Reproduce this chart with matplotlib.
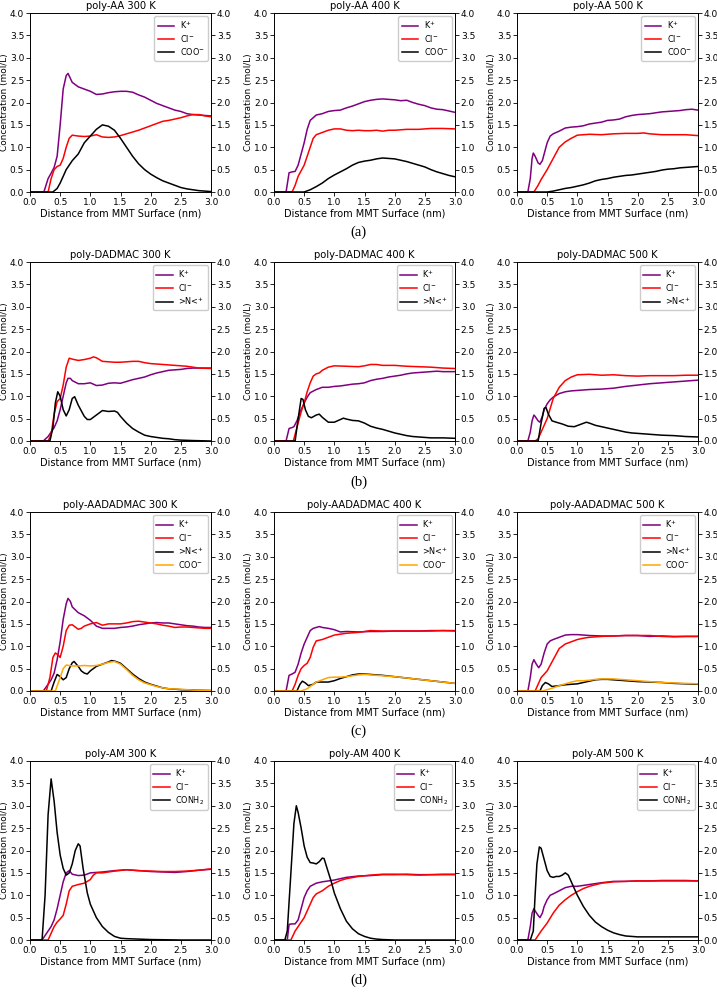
import matplotlib
matplotlib.use("Agg")
import matplotlib.pyplot as plt

# ---------------- DATA ----------------
# poly-AA 300 K
aa300_k_x = [0, 0.23, 0.3, 0.35, 0.4, 0.45, 0.5, 0.55, 0.6, 0.63, 0.7, 0.8, 0.9, 1.0, 1.1, 1.2, 1.3, 1.4, 1.5, 1.6, 1.7, 1.8, 1.9, 2.0, 2.1, 2.2, 2.3, 2.4, 2.5, 2.6, 2.7, 2.8, 2.9, 3.0]
aa300_k_y = [0, 0, 0.3, 0.42, 0.55, 0.8, 1.5, 2.3, 2.6, 2.65, 2.45, 2.35, 2.3, 2.25, 2.18, 2.19, 2.22, 2.24, 2.25, 2.25, 2.23, 2.17, 2.12, 2.05, 1.98, 1.93, 1.88, 1.83, 1.8, 1.75, 1.73, 1.72, 1.71, 1.7]
aa300_cl_x = [0, 0.3, 0.35, 0.4, 0.45, 0.5, 0.55, 0.6, 0.65, 0.7, 0.8, 0.9, 1.0, 1.1, 1.2, 1.3, 1.4, 1.5, 1.6, 1.7, 1.8, 1.9, 2.0, 2.1, 2.2, 2.3, 2.4, 2.5, 2.6, 2.7, 2.8, 2.9, 3.0]
aa300_cl_y = [0, 0, 0.3, 0.5, 0.57, 0.6, 0.75, 1.0, 1.2, 1.27, 1.25, 1.24, 1.25, 1.28, 1.23, 1.22, 1.23, 1.26, 1.3, 1.34, 1.38, 1.43, 1.48, 1.53, 1.58, 1.6, 1.63, 1.66, 1.7, 1.73, 1.73, 1.7, 1.68]
aa300_coo_x = [0, 0.38, 0.45, 0.5, 0.6, 0.7, 0.8, 0.9, 1.0, 1.1, 1.2, 1.3, 1.4, 1.5, 1.6, 1.7, 1.8, 1.9, 2.0, 2.1, 2.2, 2.3, 2.4, 2.5, 2.6, 2.7, 2.8, 2.9, 3.0]
aa300_coo_y = [0, 0, 0.08, 0.2, 0.5, 0.7, 0.85, 1.1, 1.25, 1.4, 1.5, 1.47, 1.38, 1.2, 1.0, 0.8, 0.63, 0.5, 0.4, 0.32, 0.25, 0.2, 0.15, 0.1, 0.07, 0.05, 0.03, 0.02, 0.01]

# poly-AA 400 K
aa400_k_x = [0, 0.2, 0.25, 0.3, 0.35, 0.4, 0.45, 0.5, 0.55, 0.6, 0.7, 0.8, 0.9, 1.0, 1.1, 1.2, 1.3, 1.4, 1.5, 1.6, 1.7, 1.8, 1.9, 2.0, 2.1, 2.2, 2.3, 2.4, 2.5, 2.6, 2.7, 2.8, 2.9, 3.0]
aa400_k_y = [0, 0, 0.43, 0.45, 0.46, 0.6, 0.85, 1.1, 1.4, 1.6, 1.72, 1.75, 1.8, 1.82, 1.83, 1.88, 1.92, 1.97, 2.02, 2.05, 2.07, 2.08, 2.07, 2.06, 2.04, 2.05, 2.0, 1.96, 1.93, 1.88, 1.85, 1.84, 1.81, 1.78]
aa400_cl_x = [0, 0.3, 0.35, 0.4, 0.5, 0.6, 0.65, 0.7, 0.8, 0.9, 1.0, 1.1, 1.2, 1.3, 1.4, 1.5, 1.6, 1.7, 1.8, 1.9, 2.0, 2.2, 2.4, 2.6, 2.8, 3.0]
aa400_cl_y = [0, 0, 0.15, 0.35, 0.6, 1.0, 1.2, 1.28, 1.33, 1.38, 1.41, 1.41, 1.38, 1.37, 1.38, 1.37, 1.37, 1.38, 1.36, 1.38, 1.38, 1.4, 1.4, 1.42, 1.42, 1.41]
aa400_coo_x = [0, 0.5, 0.6, 0.7, 0.8, 0.9, 1.0, 1.1, 1.2, 1.3, 1.4, 1.5, 1.6, 1.7, 1.8, 1.9, 2.0, 2.1, 2.2, 2.3, 2.4, 2.5, 2.6, 2.7, 2.8, 2.9, 3.0]
aa400_coo_y = [0, 0, 0.05, 0.12, 0.2, 0.3, 0.38, 0.45, 0.52, 0.6, 0.66, 0.69, 0.71, 0.74, 0.76, 0.75, 0.74, 0.71, 0.68, 0.64, 0.6, 0.56, 0.5, 0.45, 0.41, 0.37, 0.34]

# poly-AA 500 K
aa500_k_x = [0, 0.18, 0.22, 0.25, 0.27, 0.3, 0.35, 0.38, 0.42, 0.45, 0.5, 0.55, 0.6, 0.7, 0.8, 0.9, 1.0, 1.1, 1.2, 1.3, 1.4, 1.5, 1.6, 1.7, 1.8, 1.9, 2.0, 2.1, 2.2, 2.3, 2.4, 2.5, 2.6, 2.7, 2.8, 2.9, 3.0]
aa500_k_y = [0, 0, 0.3, 0.75, 0.87, 0.8, 0.65, 0.62, 0.7, 0.85, 1.1, 1.25, 1.3, 1.36, 1.43, 1.45, 1.46, 1.48, 1.52, 1.54, 1.56, 1.6, 1.61, 1.63, 1.68, 1.71, 1.73, 1.74, 1.75, 1.77, 1.79, 1.8, 1.81, 1.82, 1.84, 1.85, 1.83]
aa500_cl_x = [0, 0.28, 0.35, 0.4, 0.5, 0.6, 0.7, 0.8, 0.9, 1.0, 1.1, 1.2, 1.4, 1.6, 1.8, 2.0, 2.1, 2.2, 2.4, 2.6, 2.8, 3.0]
aa500_cl_y = [0, 0, 0.15, 0.28, 0.5, 0.75, 1.0, 1.12, 1.2, 1.27, 1.28, 1.29, 1.28, 1.3, 1.31, 1.31, 1.32, 1.3, 1.28, 1.28, 1.28, 1.26]
aa500_coo_x = [0, 0.5, 0.6, 0.7, 0.8, 0.9, 1.0, 1.1, 1.2, 1.3, 1.4, 1.5, 1.6, 1.7, 1.8, 1.9, 2.0, 2.1, 2.2, 2.3, 2.4, 2.5, 2.6, 2.7, 2.8, 2.9, 3.0]
aa500_coo_y = [0, 0, 0.02, 0.05, 0.08, 0.1, 0.13, 0.16, 0.2, 0.25, 0.28, 0.3, 0.33, 0.35, 0.37, 0.38, 0.4, 0.42, 0.44, 0.46, 0.49, 0.51, 0.52, 0.54, 0.55, 0.56, 0.57]

# poly-DADMAC 300 K
da300_k_x = [0, 0.22, 0.3, 0.35, 0.4, 0.45, 0.5, 0.55, 0.6, 0.63, 0.67, 0.7, 0.8, 0.9, 1.0, 1.1, 1.2, 1.3, 1.4, 1.5, 1.6, 1.7, 1.8, 1.9, 2.0, 2.1, 2.2, 2.3, 2.4, 2.5, 2.6, 2.7, 2.8, 2.9, 3.0]
da300_k_y = [0, 0, 0.1, 0.2, 0.3, 0.45, 0.7, 1.0, 1.3, 1.4, 1.4, 1.35, 1.28, 1.28, 1.3, 1.24, 1.25, 1.29, 1.3, 1.29, 1.33, 1.37, 1.4, 1.43, 1.48, 1.52, 1.55, 1.58, 1.59, 1.6, 1.62, 1.63, 1.63, 1.63, 1.63]
da300_cl_x = [0, 0.3, 0.35, 0.4, 0.45, 0.5, 0.55, 0.6, 0.65, 0.7, 0.8, 0.9, 1.0, 1.05, 1.1, 1.2, 1.3, 1.4, 1.5, 1.6, 1.7, 1.8, 1.9, 2.0, 2.2, 2.4, 2.6, 2.8, 3.0]
da300_cl_y = [0, 0, 0.15, 0.6, 0.88, 0.95, 1.25, 1.65, 1.85, 1.83, 1.8, 1.82, 1.85, 1.88, 1.86, 1.78, 1.77, 1.76, 1.76, 1.77, 1.78, 1.78, 1.75, 1.73, 1.71, 1.69, 1.67, 1.63, 1.62]
da300_n_x = [0, 0.33, 0.38, 0.42, 0.46, 0.5, 0.55, 0.6, 0.65, 0.7, 0.74, 0.8, 0.9, 0.95, 1.0, 1.1, 1.2, 1.3, 1.4, 1.45, 1.5, 1.6, 1.7, 1.8, 1.9, 2.0, 2.1, 2.2, 2.3, 2.4, 2.5, 2.7, 3.0]
da300_n_y = [0, 0, 0.3, 0.85, 1.1, 1.0, 0.7, 0.56, 0.7, 0.95, 0.99, 0.8, 0.55, 0.48, 0.48, 0.58, 0.68, 0.66, 0.67, 0.64, 0.55, 0.4, 0.28, 0.2, 0.13, 0.1, 0.08, 0.06, 0.05, 0.03, 0.02, 0.01, 0.0]

# poly-DADMAC 400 K
da400_k_x = [0, 0.2, 0.25, 0.3, 0.33, 0.38, 0.45, 0.5, 0.55, 0.6, 0.7, 0.8, 0.9, 1.0, 1.1, 1.2, 1.3, 1.4, 1.5, 1.6, 1.7, 1.8, 1.9, 2.0, 2.1, 2.2, 2.3, 2.4, 2.5, 2.6, 2.7, 2.8, 3.0]
da400_k_y = [0, 0, 0.28, 0.3, 0.32, 0.45, 0.7, 0.85, 0.98, 1.08, 1.15, 1.2, 1.2, 1.22, 1.23, 1.25, 1.27, 1.28, 1.3, 1.35, 1.38, 1.4, 1.43, 1.45, 1.47, 1.5, 1.52, 1.53, 1.54, 1.55, 1.56, 1.55, 1.55]
da400_cl_x = [0, 0.32, 0.38, 0.45, 0.5, 0.55, 0.6, 0.65, 0.7, 0.75, 0.8, 0.9, 1.0, 1.2, 1.4, 1.5, 1.6, 1.7, 1.8, 2.0, 2.2, 2.4, 2.6, 2.8, 3.0]
da400_cl_y = [0, 0, 0.3, 0.65, 0.85, 1.1, 1.3, 1.45, 1.5, 1.52, 1.58, 1.65, 1.68, 1.67, 1.66, 1.68, 1.71, 1.71, 1.69, 1.69, 1.67, 1.66, 1.65, 1.63, 1.62]
da400_n_x = [0, 0.35, 0.4, 0.45, 0.48, 0.52, 0.57, 0.62, 0.7, 0.75, 0.8, 0.9, 1.0, 1.1, 1.15, 1.2, 1.3, 1.4, 1.5, 1.6, 1.7, 1.8, 1.9, 2.0, 2.1, 2.2, 2.3, 2.4, 2.5, 2.6, 2.8, 3.0]
da400_n_y = [0, 0, 0.5, 0.95, 0.93, 0.7, 0.55, 0.52, 0.58, 0.6, 0.53, 0.42, 0.42, 0.48, 0.51, 0.49, 0.46, 0.45, 0.4, 0.33, 0.29, 0.26, 0.22, 0.18, 0.15, 0.12, 0.1, 0.09, 0.08, 0.07, 0.07, 0.06]

# poly-DADMAC 500 K
da500_k_x = [0, 0.18, 0.22, 0.25, 0.28, 0.3, 0.35, 0.38, 0.42, 0.45, 0.5, 0.55, 0.6, 0.7, 0.8, 0.9, 1.0, 1.2, 1.4, 1.6, 1.8, 2.0, 2.2, 2.4, 2.6, 2.8, 3.0]
da500_k_y = [0, 0, 0.2, 0.45, 0.58, 0.55, 0.45, 0.42, 0.55, 0.7, 0.83, 0.92, 0.98, 1.06, 1.1, 1.12, 1.13, 1.15, 1.16, 1.18, 1.22, 1.25, 1.28, 1.3, 1.32, 1.34, 1.36]
da500_cl_x = [0, 0.3, 0.35, 0.4, 0.5, 0.6, 0.7, 0.8, 0.9, 1.0, 1.2, 1.4, 1.6, 1.8, 2.0, 2.2, 2.4, 2.6, 2.8, 3.0]
da500_cl_y = [0, 0, 0.05, 0.2, 0.5, 0.95, 1.2, 1.35, 1.43, 1.48, 1.49, 1.47, 1.48, 1.46, 1.45, 1.46, 1.46, 1.46, 1.47, 1.47]
da500_n_x = [0, 0.35, 0.4, 0.45, 0.48, 0.52, 0.58, 0.65, 0.75, 0.85, 0.95, 1.05, 1.15, 1.2, 1.3, 1.4, 1.5, 1.6, 1.7, 1.8, 1.9, 2.0, 2.2, 2.4, 2.6, 2.8, 3.0]
da500_n_y = [0, 0, 0.4, 0.73, 0.75, 0.6, 0.45, 0.42, 0.38, 0.33, 0.32, 0.37, 0.42, 0.4, 0.35, 0.32, 0.29, 0.26, 0.23, 0.2, 0.18, 0.17, 0.15, 0.13, 0.12, 0.1, 0.09]

# poly-AADADMAC 300 K
ad300_k_x = [0, 0.22, 0.3, 0.35, 0.4, 0.45, 0.5, 0.55, 0.6, 0.63, 0.67, 0.7, 0.8, 0.9, 1.0, 1.1, 1.2, 1.3, 1.4, 1.5, 1.6, 1.7, 1.8, 1.9, 2.0, 2.1, 2.2, 2.3, 2.4, 2.5, 2.6, 2.7, 2.8, 2.9, 3.0]
ad300_k_y = [0, 0, 0.15, 0.25, 0.4, 0.7, 1.1, 1.6, 1.95, 2.07, 2.0, 1.88, 1.75, 1.68, 1.58, 1.45, 1.4, 1.4, 1.4, 1.42, 1.43, 1.45, 1.48, 1.5, 1.52, 1.53, 1.52, 1.52, 1.5, 1.48, 1.46, 1.45, 1.43, 1.42, 1.42]
ad300_cl_x = [0, 0.27, 0.33, 0.38, 0.42, 0.47, 0.5, 0.55, 0.6, 0.65, 0.7, 0.75, 0.8, 0.85, 0.9, 1.0, 1.1, 1.2, 1.3, 1.4, 1.5, 1.6, 1.7, 1.8, 1.9, 2.0, 2.1, 2.2, 2.3, 2.4, 2.5, 2.6, 2.7, 2.8, 2.9, 3.0]
ad300_cl_y = [0, 0, 0.3, 0.75, 0.85, 0.8, 0.75, 1.0, 1.35, 1.47, 1.48, 1.43, 1.38, 1.4, 1.45, 1.5, 1.53, 1.47, 1.5, 1.5, 1.5, 1.52, 1.55, 1.56, 1.54, 1.52, 1.5, 1.47, 1.45, 1.42, 1.43, 1.43, 1.42, 1.41, 1.4, 1.4]
ad300_n_x = [0, 0.35, 0.4, 0.45, 0.5, 0.55, 0.6, 0.65, 0.7, 0.73, 0.8, 0.85, 0.9, 0.95, 1.0, 1.1, 1.2, 1.3, 1.35, 1.4, 1.5, 1.6, 1.7, 1.8, 1.9, 2.0, 2.1, 2.2, 2.3, 2.5, 2.7, 3.0]
ad300_n_y = [0, 0, 0.2, 0.37, 0.32, 0.25, 0.3, 0.5, 0.63, 0.66, 0.55, 0.45, 0.4, 0.38, 0.45, 0.55, 0.6, 0.65, 0.68, 0.67, 0.62, 0.5, 0.38, 0.28, 0.2, 0.15, 0.11, 0.07, 0.05, 0.03, 0.02, 0.01]
ad300_coo_x = [0, 0.42, 0.5, 0.55, 0.6, 0.7, 0.8, 0.9, 1.0, 1.1, 1.2, 1.3, 1.4, 1.5, 1.6, 1.7, 1.8, 1.9, 2.0, 2.1, 2.2, 2.3, 2.5, 2.7, 3.0]
ad300_coo_y = [0, 0, 0.3, 0.5, 0.58, 0.56, 0.56, 0.57, 0.56, 0.57, 0.6, 0.64, 0.66, 0.6, 0.48, 0.35, 0.25, 0.18, 0.14, 0.1, 0.07, 0.05, 0.04, 0.02, 0.01]

# poly-AADADMAC 400 K
ad400_k_x = [0, 0.2, 0.25, 0.3, 0.35, 0.4, 0.45, 0.5, 0.55, 0.6, 0.65, 0.7, 0.75, 0.8, 0.9, 1.0, 1.1, 1.2, 1.4, 1.6, 1.8, 2.0, 2.2, 2.4, 2.6, 2.8, 3.0]
ad400_k_y = [0, 0, 0.35, 0.38, 0.42, 0.6, 0.85, 1.05, 1.2, 1.35, 1.4, 1.42, 1.44, 1.42, 1.4, 1.37, 1.32, 1.33, 1.32, 1.33, 1.33, 1.34, 1.34, 1.34, 1.35, 1.35, 1.35]
ad400_cl_x = [0, 0.3, 0.35, 0.4, 0.45, 0.5, 0.55, 0.6, 0.65, 0.7, 0.8, 0.9, 1.0, 1.1, 1.2, 1.4, 1.5, 1.6, 1.8, 2.0, 2.2, 2.4, 2.6, 2.8, 3.0]
ad400_cl_y = [0, 0, 0.15, 0.35, 0.5, 0.57, 0.62, 0.75, 0.98, 1.12, 1.15, 1.2, 1.25, 1.27, 1.29, 1.31, 1.33, 1.35, 1.34, 1.34, 1.34, 1.34, 1.34, 1.35, 1.34]
ad400_n_x = [0, 0.38, 0.43, 0.47, 0.52, 0.57, 0.65, 0.7, 0.8, 0.9, 1.0, 1.1, 1.2, 1.3, 1.4, 1.5, 1.6, 1.8, 2.0, 2.2, 2.4, 2.6, 2.8, 3.0]
ad400_n_y = [0, 0, 0.15, 0.22, 0.18, 0.12, 0.15, 0.2, 0.2, 0.2, 0.23, 0.28, 0.32, 0.36, 0.38, 0.38, 0.37, 0.35, 0.32, 0.29, 0.26, 0.23, 0.2, 0.17]
ad400_coo_x = [0, 0.45, 0.55, 0.6, 0.7, 0.8, 0.9, 1.0, 1.1, 1.2, 1.3, 1.4, 1.5, 1.6, 1.8, 2.0, 2.2, 2.4, 2.6, 2.8, 3.0]
ad400_coo_y = [0, 0, 0.05, 0.1, 0.2, 0.25, 0.3, 0.31, 0.31, 0.32, 0.34, 0.36, 0.37, 0.36, 0.34, 0.32, 0.29, 0.26, 0.23, 0.2, 0.17]

# poly-AADADMAC 500 K
ad500_k_x = [0, 0.18, 0.22, 0.25, 0.28, 0.32, 0.36, 0.4, 0.45, 0.5, 0.55, 0.6, 0.7, 0.8, 0.9, 1.0, 1.2, 1.4, 1.6, 1.8, 2.0, 2.2, 2.4, 2.6, 2.8, 3.0]
ad500_k_y = [0, 0, 0.3, 0.6, 0.7, 0.6, 0.52, 0.6, 0.85, 1.05, 1.12, 1.15, 1.2, 1.25, 1.26, 1.26, 1.24, 1.23, 1.23, 1.24, 1.24, 1.22, 1.23, 1.22, 1.22, 1.22]
ad500_cl_x = [0, 0.3, 0.35, 0.4, 0.5, 0.6, 0.7, 0.8, 0.9, 1.0, 1.1, 1.2, 1.4, 1.6, 1.8, 2.0, 2.2, 2.4, 2.6, 2.8, 3.0]
ad500_cl_y = [0, 0, 0.15, 0.3, 0.45, 0.7, 0.95, 1.05, 1.1, 1.15, 1.18, 1.2, 1.22, 1.23, 1.24, 1.24, 1.24, 1.22, 1.21, 1.22, 1.22]
ad500_n_x = [0, 0.38, 0.42, 0.47, 0.52, 0.58, 0.7, 0.8, 0.9, 1.0, 1.1, 1.2, 1.3, 1.4, 1.5, 1.6, 1.8, 2.0, 2.2, 2.4, 2.6, 2.8, 3.0]
ad500_n_y = [0, 0, 0.12, 0.19, 0.16, 0.1, 0.12, 0.14, 0.15, 0.16, 0.19, 0.22, 0.25, 0.26, 0.26, 0.25, 0.23, 0.21, 0.2, 0.19, 0.17, 0.16, 0.15]
ad500_coo_x = [0, 0.42, 0.5, 0.6, 0.7, 0.8, 0.9, 1.0, 1.1, 1.2, 1.3, 1.4, 1.5, 1.6, 1.8, 2.0, 2.2, 2.4, 2.6, 2.8, 3.0]
ad500_coo_y = [0, 0, 0.03, 0.07, 0.12, 0.16, 0.2, 0.23, 0.23, 0.24, 0.26, 0.27, 0.27, 0.27, 0.25, 0.23, 0.21, 0.19, 0.18, 0.17, 0.16]

# poly-AM 300 K
am300_k_x = [0, 0.2, 0.25, 0.3, 0.35, 0.4, 0.45, 0.5, 0.55, 0.6, 0.65, 0.7, 0.8, 0.9, 1.0, 1.2, 1.4, 1.6, 1.8, 2.0, 2.2, 2.4, 2.6, 2.8, 3.0]
am300_k_y = [0, 0, 0.1, 0.2, 0.3, 0.45, 0.7, 1.0, 1.3, 1.5, 1.55, 1.47, 1.44, 1.45, 1.5, 1.52, 1.55, 1.57, 1.55, 1.53, 1.52, 1.51, 1.53, 1.56, 1.58]
am300_cl_x = [0, 0.3, 0.35, 0.4, 0.45, 0.5, 0.55, 0.6, 0.65, 0.7, 0.8, 0.9, 1.0, 1.05, 1.1, 1.2, 1.4, 1.6, 1.8, 2.0, 2.2, 2.4, 2.6, 2.8, 3.0]
am300_cl_y = [0, 0, 0.15, 0.3, 0.4, 0.47, 0.55, 0.8, 1.1, 1.2, 1.24, 1.27, 1.35, 1.45, 1.5, 1.5, 1.54, 1.57, 1.55, 1.54, 1.53, 1.53, 1.54, 1.56, 1.59]
am300_c_x = [0, 0.2, 0.25, 0.3, 0.35, 0.4, 0.45, 0.5, 0.55, 0.6, 0.65, 0.7, 0.75, 0.8, 0.83, 0.88, 0.95, 1.0, 1.1, 1.2, 1.3, 1.4, 1.5, 1.6, 1.8, 2.0, 2.5, 3.0]
am300_c_y = [0, 0, 1.0, 2.8, 3.6, 3.1, 2.4, 1.9, 1.6, 1.45, 1.5, 1.7, 2.0, 2.15, 2.1, 1.6, 1.05, 0.8, 0.5, 0.3, 0.17, 0.08, 0.04, 0.03, 0.02, 0.01, 0.0, 0.0]

# poly-AM 400 K
am400_k_x = [0, 0.22, 0.25, 0.3, 0.35, 0.4, 0.45, 0.5, 0.55, 0.6, 0.7, 0.8, 0.9, 1.0, 1.1, 1.2, 1.4, 1.6, 1.8, 2.0, 2.2, 2.4, 2.6, 2.8, 3.0]
am400_k_y = [0, 0, 0.35, 0.36, 0.36, 0.45, 0.7, 0.95, 1.1, 1.2, 1.27, 1.3, 1.32, 1.34, 1.37, 1.4, 1.43, 1.44, 1.46, 1.46, 1.47, 1.46, 1.46, 1.46, 1.46]
am400_cl_x = [0, 0.28, 0.35, 0.4, 0.5, 0.55, 0.6, 0.65, 0.7, 0.8, 0.9, 1.0, 1.1, 1.2, 1.4, 1.6, 1.8, 2.0, 2.2, 2.4, 2.6, 2.8, 3.0]
am400_cl_y = [0, 0, 0.2, 0.3, 0.5, 0.65, 0.8, 0.95, 1.03, 1.1, 1.2, 1.27, 1.33, 1.37, 1.42, 1.45, 1.47, 1.47, 1.46, 1.45, 1.46, 1.47, 1.47]
am400_c_x = [0, 0.18, 0.22, 0.28, 0.33, 0.37, 0.4, 0.45, 0.5, 0.55, 0.6, 0.65, 0.7, 0.75, 0.8, 0.83, 0.88, 0.95, 1.0, 1.1, 1.2, 1.3, 1.4, 1.5, 1.6, 1.7, 1.8, 2.0, 3.0]
am400_c_y = [0, 0, 0.2, 1.5, 2.6, 3.0, 2.85, 2.5, 2.1, 1.85, 1.73, 1.72, 1.7, 1.75, 1.83, 1.82, 1.6, 1.3, 1.05, 0.7, 0.42, 0.25, 0.14, 0.08, 0.04, 0.02, 0.01, 0.0, 0.0]

# poly-AM 500 K
am500_k_x = [0, 0.18, 0.22, 0.25, 0.28, 0.3, 0.35, 0.38, 0.42, 0.45, 0.5, 0.55, 0.6, 0.7, 0.8, 0.9, 1.0, 1.1, 1.2, 1.4, 1.6, 1.8, 2.0, 2.2, 2.4, 2.6, 2.8, 3.0]
am500_k_y = [0, 0, 0.3, 0.6, 0.7, 0.65, 0.55, 0.5, 0.6, 0.75, 0.9, 1.0, 1.03, 1.1, 1.17, 1.2, 1.2, 1.22, 1.24, 1.28, 1.31, 1.31, 1.32, 1.32, 1.33, 1.33, 1.33, 1.32]
am500_cl_x = [0, 0.3, 0.35, 0.4, 0.5, 0.6, 0.7, 0.8, 0.9, 1.0, 1.1, 1.2, 1.4, 1.6, 1.8, 2.0, 2.2, 2.4, 2.6, 2.8, 3.0]
am500_cl_y = [0, 0, 0.1, 0.2, 0.38, 0.6, 0.78, 0.9, 1.0, 1.08, 1.15, 1.2, 1.27, 1.3, 1.31, 1.32, 1.32, 1.32, 1.32, 1.32, 1.32]
am500_c_x = [0, 0.22, 0.27, 0.3, 0.33, 0.37, 0.4, 0.45, 0.5, 0.55, 0.6, 0.65, 0.7, 0.75, 0.8, 0.85, 0.9, 1.0, 1.1, 1.2, 1.3, 1.4, 1.5, 1.6, 1.7, 1.8, 1.9, 2.0, 2.5, 3.0]
am500_c_y = [0, 0, 0.2, 1.0, 1.7, 2.08, 2.05, 1.8, 1.55, 1.42, 1.4, 1.42, 1.42, 1.45, 1.5, 1.45, 1.3, 1.0, 0.75, 0.55, 0.4, 0.3, 0.22, 0.16, 0.12, 0.09, 0.08, 0.07, 0.07, 0.07]

titles = ["poly-AA 300 K", "poly-AA 400 K", "poly-AA 500 K",
          "poly-DADMAC 300 K", "poly-DADMAC 400 K", "poly-DADMAC 500 K",
          "poly-AADADMAC 300 K", "poly-AADADMAC 400 K", "poly-AADADMAC 500 K",
          "poly-AM 300 K", "poly-AM 400 K", "poly-AM 500 K"]
captions = ["(a)", "(b)", "(c)", "(d)"]

LBL_K = "K$^{+}$"
LBL_CL = "Cl$^{-}$"
LBL_COO = "COO$^{-}$"
LBL_N = ">N<$^{+}$"
LBL_C = "CONH$_2$"
C_K, C_CL, C_BLACK, C_ORANGE = "purple", "red", "black", "orange"

panels = [
    [(aa300_k_x, aa300_k_y, LBL_K, C_K), (aa300_cl_x, aa300_cl_y, LBL_CL, C_CL), (aa300_coo_x, aa300_coo_y, LBL_COO, C_BLACK)],
    [(aa400_k_x, aa400_k_y, LBL_K, C_K), (aa400_cl_x, aa400_cl_y, LBL_CL, C_CL), (aa400_coo_x, aa400_coo_y, LBL_COO, C_BLACK)],
    [(aa500_k_x, aa500_k_y, LBL_K, C_K), (aa500_cl_x, aa500_cl_y, LBL_CL, C_CL), (aa500_coo_x, aa500_coo_y, LBL_COO, C_BLACK)],
    [(da300_k_x, da300_k_y, LBL_K, C_K), (da300_cl_x, da300_cl_y, LBL_CL, C_CL), (da300_n_x, da300_n_y, LBL_N, C_BLACK)],
    [(da400_k_x, da400_k_y, LBL_K, C_K), (da400_cl_x, da400_cl_y, LBL_CL, C_CL), (da400_n_x, da400_n_y, LBL_N, C_BLACK)],
    [(da500_k_x, da500_k_y, LBL_K, C_K), (da500_cl_x, da500_cl_y, LBL_CL, C_CL), (da500_n_x, da500_n_y, LBL_N, C_BLACK)],
    [(ad300_k_x, ad300_k_y, LBL_K, C_K), (ad300_cl_x, ad300_cl_y, LBL_CL, C_CL), (ad300_n_x, ad300_n_y, LBL_N, C_BLACK), (ad300_coo_x, ad300_coo_y, LBL_COO, C_ORANGE)],
    [(ad400_k_x, ad400_k_y, LBL_K, C_K), (ad400_cl_x, ad400_cl_y, LBL_CL, C_CL), (ad400_n_x, ad400_n_y, LBL_N, C_BLACK), (ad400_coo_x, ad400_coo_y, LBL_COO, C_ORANGE)],
    [(ad500_k_x, ad500_k_y, LBL_K, C_K), (ad500_cl_x, ad500_cl_y, LBL_CL, C_CL), (ad500_n_x, ad500_n_y, LBL_N, C_BLACK), (ad500_coo_x, ad500_coo_y, LBL_COO, C_ORANGE)],
    [(am300_k_x, am300_k_y, LBL_K, C_K), (am300_cl_x, am300_cl_y, LBL_CL, C_CL), (am300_c_x, am300_c_y, LBL_C, C_BLACK)],
    [(am400_k_x, am400_k_y, LBL_K, C_K), (am400_cl_x, am400_cl_y, LBL_CL, C_CL), (am400_c_x, am400_c_y, LBL_C, C_BLACK)],
    [(am500_k_x, am500_k_y, LBL_K, C_K), (am500_cl_x, am500_cl_y, LBL_CL, C_CL), (am500_c_x, am500_c_y, LBL_C, C_BLACK)],
]

# ---------------- LAYOUT ----------------
W, H = 717, 992
fig = plt.figure(figsize=(W / 100, H / 100), dpi=100)
plt.rcParams['font.family'] = ['DejaVu Sans']

col_left = [30, 274, 517]
ax_w = 181
row_top = [13, 262, 512, 761]
ax_h = 179
caption_y = [232, 482, 731, 980]

FS_TICK = 6.5
FS_XLABEL = 7
FS_YLABEL = 6.4
ticks_y = [0, 0.5, 1.0, 1.5, 2.0, 2.5, 3.0, 3.5, 4.0]
for i, series in enumerate(panels):
    r, c = divmod(i, 3)
    left = col_left[c] / W
    bottom = 1 - (row_top[r] + ax_h) / H
    ax = fig.add_axes([left, bottom, ax_w / W, ax_h / H])
    for x, y, lbl, col in series:
        ax.plot(x, y, color=col, lw=1.1, label=lbl)
    ax.set_xlim(0, 3)
    ax.set_ylim(0, 4)
    ax.set_xticks([0, 0.5, 1.0, 1.5, 2.0, 2.5, 3.0])
    ax.set_yticks(ticks_y)
    ax.tick_params(labelsize=FS_TICK, length=3, width=0.6, pad=1.2)
    ax.set_xlabel("Distance from MMT Surface (nm)", fontsize=FS_XLABEL, labelpad=1)
    ax.set_ylabel("Concentration (mol/L)", fontsize=FS_YLABEL, labelpad=0.5)
    ax.set_title(titles[i], fontsize=7.2, pad=3)
    for s in ax.spines.values():
        s.set_linewidth(0.6)
    ax2 = ax.twinx()
    ax2.set_ylim(0, 4)
    ax2.set_yticks(ticks_y)
    ax2.tick_params(labelsize=FS_TICK, length=3, width=0.6, pad=1.2)
    for s in ax2.spines.values():
        s.set_linewidth(0.6)
    ax.legend(loc="upper right", fontsize=5.9, handlelength=2.0, borderpad=0.4,
              labelspacing=0.25, handletextpad=0.7, framealpha=1,
              edgecolor="#cccccc", borderaxespad=0.4)

for r in range(4):
    fig.text(0.5, 1 - caption_y[r] / H, captions[r], ha="center", va="center",
             fontsize=10.5, family="Liberation Serif")

fig.savefig("out.png", dpi=100)
